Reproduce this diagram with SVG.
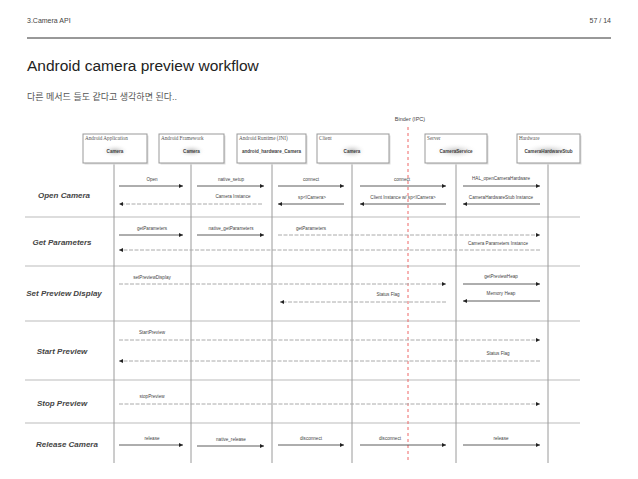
<svg xmlns="http://www.w3.org/2000/svg" width="638" height="479" viewBox="0 0 638 479">
<defs>
<style>
.hdr{font-family:"Liberation Sans",Arial,sans-serif;font-size:7px;fill:#444}
.title{font-family:"Liberation Sans",Arial,sans-serif;font-size:15.5px;fill:#222}
.sub{font-family:"Liberation Sans","Noto Sans CJK KR",sans-serif;font-size:9px;fill:#555}
.row{font-family:"Liberation Sans",Arial,sans-serif;font-size:8px;font-weight:bold;font-style:italic;fill:#444;text-anchor:middle}
.msg{font-family:"Liberation Sans",Arial,sans-serif;font-size:4.6px;fill:#444;text-anchor:middle}
.btitle{font-family:"Liberation Serif","Times New Roman",serif;font-size:5.2px;fill:#555}
.bcenter{font-family:"Liberation Sans",Arial,sans-serif;font-size:4.6px;font-weight:bold;fill:#444;text-anchor:middle}
.box{fill:#fff;stroke:#999;stroke-width:1}
.shadow{fill:#ddd}
.life{stroke:#9a9a9a;stroke-width:1}
.sep{stroke:#aaa;stroke-width:0.8}
.solid{stroke:#333;stroke-width:0.8;fill:none}
.dash{stroke:#aaa;stroke-width:1;stroke-dasharray:4 1.5;fill:none}
</style>
<marker id="ah" viewBox="0 0 6 6" refX="6" refY="3" markerWidth="4" markerHeight="4" markerUnits="userSpaceOnUse" orient="auto-start-reverse">
<path d="M0,0 L6,3 L0,6 z" fill="#222"/>
</marker>
<radialGradient id="blob">
<stop offset="0" stop-color="#bbb"/>
<stop offset="1" stop-color="#fff" stop-opacity="0"/>
</radialGradient>
</defs>
<rect width="638" height="479" fill="#fff"/>
<g id="header">
<text class="hdr" x="27" y="23">3.Camera API</text>
<text class="hdr" x="611" y="23" text-anchor="end">57 / 14</text>
<line x1="27" y1="38" x2="611" y2="38" stroke="#333" stroke-width="1"/>
<text class="title" x="27" y="71">Android camera preview workflow</text>
<text class="sub" x="27" y="100">다른 메서드 들도 같다고 생각하면 된다..</text>
</g>
<g id="grid">
<line class="sep" x1="25" y1="217" x2="580" y2="217"/>
<line class="sep" x1="25" y1="266" x2="580" y2="266"/>
<line class="sep" x1="25" y1="321" x2="580" y2="321"/>
<line class="sep" x1="25" y1="380" x2="580" y2="380"/>
<line class="sep" x1="25" y1="423" x2="580" y2="423"/>
<line class="life" x1="114" y1="164" x2="114" y2="463"/>
<line class="life" x1="191" y1="164" x2="191" y2="463"/>
<line class="life" x1="272" y1="164" x2="272" y2="463"/>
<line class="life" x1="352" y1="164" x2="352" y2="463"/>
<line class="life" x1="456" y1="164" x2="456" y2="463"/>
<line class="life" x1="548" y1="164" x2="548" y2="463"/>
<text class="msg" x="410" y="121" style="font-size:5.5px">Binder (IPC)</text>
<line x1="408" y1="127" x2="408" y2="463" stroke="#e66" stroke-width="1" stroke-dasharray="3 3"/>
</g>
<g id="node-app">
<rect class="shadow" x="84.5" y="135.5" width="64" height="29"/>
<rect class="box" x="83" y="134" width="64" height="29"/>
<text class="btitle" x="85" y="140">Android Application</text>
<ellipse cx="115" cy="151" rx="14" ry="7" fill="url(#blob)"/>
<text class="bcenter" x="115" y="153">Camera</text>
</g>
<g id="node-framework">
<rect class="shadow" x="160.5" y="135.5" width="65" height="29"/>
<rect class="box" x="159" y="134" width="65" height="29"/>
<text class="btitle" x="161" y="140">Android Framework</text>
<ellipse cx="191.5" cy="151" rx="14" ry="7" fill="url(#blob)"/>
<text class="bcenter" x="191.5" y="153">Camera</text>
</g>
<g id="node-runtime">
<rect class="shadow" x="238.5" y="135.5" width="69" height="29"/>
<rect class="box" x="237" y="134" width="69" height="29"/>
<text class="btitle" x="239" y="140">Android Runtime (JNI)</text>
<text class="bcenter" x="271.5" y="153">android_hardware_Camera</text>
</g>
<g id="node-client">
<rect class="shadow" x="318.5" y="135.5" width="72" height="29"/>
<rect class="box" x="317" y="134" width="72" height="29"/>
<text class="btitle" x="319" y="140">Client</text>
<ellipse cx="352" cy="151" rx="14" ry="8" fill="url(#blob)"/>
<text class="bcenter" x="352" y="153">Camera</text>
</g>
<g id="node-server">
<rect class="shadow" x="426.5" y="135.5" width="62" height="29"/>
<rect class="box" x="425" y="134" width="62" height="29"/>
<text class="btitle" x="427" y="140">Server</text>
<ellipse cx="456" cy="151" rx="22" ry="8" fill="url(#blob)"/>
<text class="bcenter" x="456" y="153">CameraService</text>
</g>
<g id="node-hardware">
<rect class="shadow" x="518.5" y="135.5" width="63" height="29"/>
<rect class="box" x="517" y="134" width="63" height="29"/>
<text class="btitle" x="519" y="140">Hardware</text>
<ellipse cx="548.5" cy="151" rx="26" ry="8" fill="url(#blob)"/>
<text class="bcenter" x="548.5" y="153">CameraHardwareStub</text>
</g>
<g id="rows">
<text class="row" x="64" y="198">Open Camera</text>
<text class="row" x="62" y="245">Get Parameters</text>
<text class="row" x="64" y="296">Set Preview Display</text>
<text class="row" x="62" y="354">Start Preview</text>
<text class="row" x="62" y="406">Stop Preview</text>
<text class="row" x="67" y="447">Release Camera</text>
</g>
<g id="connectors">
<!-- Open Camera -->
<line class="solid" x1="119" y1="186" x2="183" y2="186" marker-end="url(#ah)"/>
<text class="msg" x="152" y="181">Open</text>
<line class="solid" x1="197" y1="186" x2="264" y2="186" marker-end="url(#ah)"/>
<text class="msg" x="231" y="181">native_setup</text>
<line class="solid" x1="278" y1="186" x2="344" y2="186" marker-end="url(#ah)"/>
<text class="msg" x="311" y="181">connect</text>
<line class="solid" x1="360" y1="186" x2="446" y2="186" marker-end="url(#ah)"/>
<text class="msg" x="402" y="181">connect</text>
<line class="solid" x1="463" y1="186" x2="540" y2="186" marker-end="url(#ah)"/>
<text class="msg" x="501" y="180">HAL_openCameraHardware</text>
<line class="solid" x1="540" y1="204" x2="463" y2="204" marker-end="url(#ah)"/>
<text class="msg" x="501" y="199">CameraHardwareStub Instance</text>
<line class="solid" x1="446" y1="204" x2="360" y2="204" marker-end="url(#ah)"/>
<text class="msg" x="403" y="199">Client Instance w/ sp&lt;ICamera&gt;</text>
<line class="solid" x1="344" y1="204" x2="278" y2="204" marker-end="url(#ah)"/>
<text class="msg" x="312" y="199">sp&lt;ICamera&gt;</text>
<line class="dash" x1="262" y1="204" x2="119" y2="204" marker-end="url(#ah)"/>
<text class="msg" x="233" y="198">Camera Instance</text>
<!-- Get Parameters -->
<line class="solid" x1="119" y1="235" x2="183" y2="235" marker-end="url(#ah)"/>
<text class="msg" x="152" y="230">getParameters</text>
<line class="solid" x1="197" y1="235" x2="264" y2="235" marker-end="url(#ah)"/>
<text class="msg" x="231" y="230">native_getParameters</text>
<line class="dash" x1="278" y1="235" x2="540" y2="235" marker-end="url(#ah)"/>
<text class="msg" x="311" y="230">getParameters</text>
<line class="dash" x1="540" y1="250" x2="119" y2="250" marker-end="url(#ah)"/>
<text class="msg" x="498" y="245">Camera Parameters Instance</text>
<!-- Set Preview Display -->
<line class="dash" x1="119" y1="284" x2="446" y2="284" marker-end="url(#ah)"/>
<text class="msg" x="152" y="279">setPreviewDisplay</text>
<line class="solid" x1="463" y1="284" x2="540" y2="284" marker-end="url(#ah)"/>
<text class="msg" x="501" y="278">getPreviewHeap</text>
<line class="solid" x1="540" y1="301" x2="463" y2="301" marker-end="url(#ah)"/>
<text class="msg" x="501" y="295">Memory Heap</text>
<line class="dash" x1="446" y1="302" x2="280" y2="302" marker-end="url(#ah)"/>
<text class="msg" x="388" y="296">Status Flag</text>
<!-- Start Preview -->
<line class="dash" x1="119" y1="340" x2="540" y2="340" marker-end="url(#ah)"/>
<text class="msg" x="152" y="334">StartPreview</text>
<line class="dash" x1="540" y1="361" x2="119" y2="361" marker-end="url(#ah)"/>
<text class="msg" x="498" y="355">Status Flag</text>
<!-- Stop Preview -->
<line class="dash" x1="119" y1="404" x2="540" y2="404" marker-end="url(#ah)"/>
<text class="msg" x="152" y="398">stopPreview</text>
<!-- Release Camera -->
<line class="solid" x1="119" y1="445" x2="183" y2="445" marker-end="url(#ah)"/>
<text class="msg" x="152" y="440">release</text>
<line class="solid" x1="197" y1="446" x2="264" y2="446" marker-end="url(#ah)"/>
<text class="msg" x="231" y="441">native_release</text>
<line class="solid" x1="278" y1="445" x2="344" y2="445" marker-end="url(#ah)"/>
<text class="msg" x="311" y="440">disconnect</text>
<line class="solid" x1="360" y1="445" x2="446" y2="445" marker-end="url(#ah)"/>
<text class="msg" x="390" y="440">disconnect</text>
<line class="solid" x1="463" y1="445" x2="540" y2="445" marker-end="url(#ah)"/>
<text class="msg" x="501" y="440">release</text>
</g>
</svg>
